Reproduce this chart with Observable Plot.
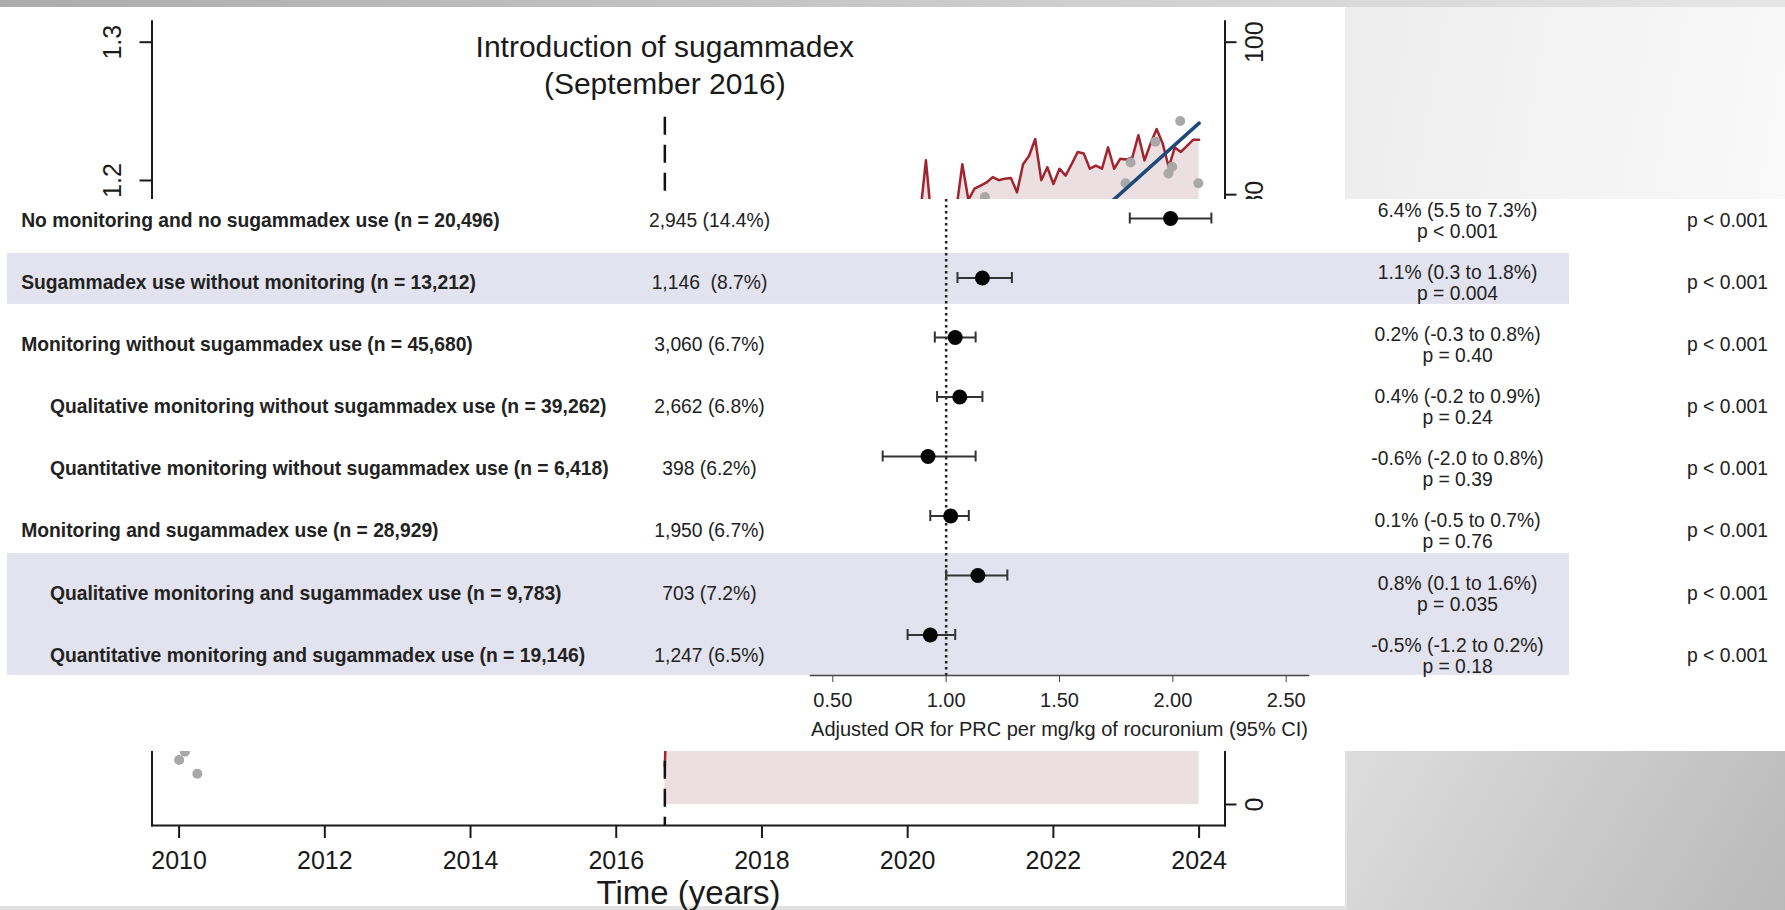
<!DOCTYPE html>
<html><head><meta charset="utf-8">
<script src="https://cdn.jsdelivr.net/npm/d3@7"></script>
<script src="https://cdn.jsdelivr.net/npm/@observablehq/plot@0.6"></script>
<style>
body{margin:0;width:1785px;height:910px;overflow:hidden;background:#e2e2e2;font-family:"Liberation Sans",Arial,sans-serif;position:relative}
.layer{position:absolute}
.layer svg{display:block;max-width:none}
</style></head><body>
<div class="layer" style="left:0;top:0;width:1785px;height:7px;background:linear-gradient(to right,#acacac,#e6e6e6)"></div>
<div class="layer" style="left:1345px;top:7px;width:440px;height:192px;background:linear-gradient(100deg,#ededed,#f9f9f9)"></div>
<div class="layer" style="left:0;top:7px;width:1345px;height:899px;background:#fff"></div>
<div id="back1" class="layer" style="left:0;top:0"></div>
<div id="back2" class="layer" style="left:0;top:0"></div>
<div class="layer" style="left:0;top:199px;width:1785px;height:552px;background:#fff"></div>
<div id="table" class="layer" style="left:0;top:199px"></div>
<div id="forest" class="layer" style="left:0;top:199px"></div>
<div class="layer" style="left:1347px;top:751px;width:438px;height:159px;background:linear-gradient(120deg,#dddddd,#b9b9b9)"></div>
<script>
// ---------- background chart (interrupted time series) ----------
const introYear = 2016.667;
const titleText = "Introduction of sugammadex\n(September 2016)";
const yearTicks = [2010, 2012, 2014, 2016, 2018, 2020, 2022, 2024];
const leftTicks = [0.8, 0.9, 1.0, 1.1, 1.2, 1.3];
const rightTicks = [0, 20, 40, 60, 80, 100];
// monthly series after introduction (right axis, %)
const redValues = [5,34,42,47,50,53,55,57,58,60,61,62,63,64,64,65,66,67,67,68,69,69,70,71,71,72,72,73,73,74,74,75,75,76,76,76,77,77,77,78,78,78,77,84.5,76,73,75,77,78,84.0,79.3,80.8,81.2,81.6,82.3,81.9,82.1,82.2,80.3,84.0,85.1,87.3,81.9,83.6,81.4,83.4,82.5,84.0,85.6,85.4,83.4,83.8,83.4,86.2,83.4,84.7,84.6,84.9,87.8,84.5,86.7,88.6,86.7,83.6,86.2,85.6,86.4,87.2,87.2];
const redMonths = redValues.map((v, i) => introYear + i / 12);
// grey observed points (left axis)
const dotYears = [2010.0, 2010.08, 2010.25, 2021.06, 2022.99, 2023.06, 2023.40, 2023.58, 2023.63, 2023.74, 2023.99];
const dotValues = [0.781, 0.787, 0.771, 1.188, 1.198, 1.213, 1.228, 1.205, 1.210, 1.243, 1.198];
// fitted trend (left axis)
const trendYears = [2016.667, 2024];
const trendValues = [0.895, 1.2415];

// ---------- forest plot overlay ----------
const rowLabels = [
  "No monitoring and no sugammadex use (n = 20,496)",
  "Sugammadex use without monitoring (n = 13,212)",
  "Monitoring without sugammadex use (n = 45,680)",
  "Qualitative monitoring without sugammadex use (n = 39,262)",
  "Quantitative monitoring without sugammadex use (n = 6,418)",
  "Monitoring and sugammadex use (n = 28,929)",
  "Qualitative monitoring and sugammadex use (n = 9,783)",
  "Quantitative monitoring and sugammadex use (n = 19,146)"
];
const rowIndent = [0, 0, 0, 1, 1, 0, 1, 1];
const rowCounts = ["2,945 (14.4%)", "1,146  (8.7%)", "3,060 (6.7%)", "2,662 (6.8%)", "398 (6.2%)", "1,950 (6.7%)", "703 (7.2%)", "1,247 (6.5%)"];
const rowEffects = ["6.4% (5.5 to 7.3%)", "1.1% (0.3 to 1.8%)", "0.2% (-0.3 to 0.8%)", "0.4% (-0.2 to 0.9%)", "-0.6% (-2.0 to 0.8%)", "0.1% (-0.5 to 0.7%)", "0.8% (0.1 to 1.6%)", "-0.5% (-1.2 to 0.2%)"];
const rowEffectP = ["p < 0.001", "p = 0.004", "p = 0.40", "p = 0.24", "p = 0.39", "p = 0.76", "p = 0.035", "p = 0.18"];
const rowInteractionP = ["p < 0.001", "p < 0.001", "p < 0.001", "p < 0.001", "p < 0.001", "p < 0.001", "p < 0.001", "p < 0.001"];
const orEstimate = [1.99, 1.16, 1.04, 1.06, 0.92, 1.02, 1.14, 0.93];
const orLower = [1.81, 1.05, 0.95, 0.96, 0.72, 0.93, 1.00, 0.83];
const orUpper = [2.17, 1.29, 1.13, 1.16, 1.13, 1.10, 1.27, 1.04];
const orTicks = [0.5, 1.0, 1.5, 2.0, 2.5];
const axisTitle = "Adjusted OR for PRC per mg/kg of rocuronium (95% CI)";
const bandStart = [0.53, 5.36];
const bandEnd = [1.35, 7.32];

// ---------- build tables ----------
const series = redValues.map((v, i) => ({t: redMonths[i], v}));
const dots = dotYears.map((t, i) => ({t, v: dotValues[i]}));
const trend = trendYears.map((t, i) => ({t, v: trendValues[i]}));
const rows = rowLabels.map((label, i) => ({
  i, label, indent: rowIndent[i], count: rowCounts[i],
  effect: rowEffects[i] + "\n" + rowEffectP[i], p: rowInteractionP[i],
  or: orEstimate[i], lo: orLower[i], hi: orUpper[i]
}));
const bands = bandStart.map((a, k) => ({a, b: bandEnd[k]}));

const font = "'Liberation Sans', Arial, Helvetica, sans-serif";
const baseStyle = {background: "transparent", fontFamily: font, color: "#1a1a1a", overflow: "visible"};
const backFrame = {width: 1345, height: 905, marginLeft: 151.5, marginRight: 120.5, marginTop: 20.7, marginBottom: 80};
const xYears = {domain: [2010, 2024], range: [178.6, 1198.6], axis: null};
const centered = {textAnchor: "middle", lineAnchor: "middle"};

const back1 = Plot.plot({
  ...backFrame, style: baseStyle,
  x: xYears,
  y: {domain: [0, 100], range: [804, 41.7], axis: null},
  marks: [
    Plot.areaY(series, {x: "t", y: "v", fill: "#ecdfe1"}),
    Plot.lineY(series, {x: "t", y: "v", stroke: "#a1252f", strokeWidth: 2.5}),
    Plot.frame({anchor: "right", stroke: "#1a1a1a", strokeWidth: 2}),
    Plot.axisY(rightTicks, {anchor: "right", tickSize: 11, tickFormat: () => "", strokeWidth: 2, label: null}),
    Plot.text(rightTicks, {y: d => d, text: d => String(d), frameAnchor: "right", dx: 30, rotate: -90, fontSize: 25, ...centered})
  ]
});
document.getElementById("back1").appendChild(back1);

const back2 = Plot.plot({
  ...backFrame, style: baseStyle,
  x: xYears,
  y: {domain: [1.2, 1.3], range: [180, 41.7], axis: null},
  marks: [
    Plot.ruleX([introYear], {stroke: "#111", strokeWidth: 2.5, strokeDasharray: "18,10", insetTop: 96}),
    Plot.dot(dots, {x: "t", y: "v", r: 5, fill: "#a8a8a8"}),
    Plot.line(trend, {x: "t", y: "v", stroke: "#1f4a78", strokeWidth: 3.5}),
    Plot.frame({anchor: "left", stroke: "#1a1a1a", strokeWidth: 2}),
    Plot.frame({anchor: "bottom", stroke: "#1a1a1a", strokeWidth: 2}),
    Plot.axisX(yearTicks, {tickSize: 13, tickPadding: 13, fontSize: 25, tickFormat: "d", strokeWidth: 2, label: null}),
    Plot.axisY(leftTicks, {anchor: "left", tickSize: 12, tickFormat: () => "", strokeWidth: 2, label: null}),
    Plot.text(leftTicks, {y: d => d, text: d => d.toFixed(1), frameAnchor: "left", dx: -39, rotate: -90, fontSize: 25, ...centered}),
    Plot.text([titleText], {x: introYear, frameAnchor: "top", dy: 42.7, fontSize: 30, lineHeight: 1.22, ...centered}),
    Plot.text(["Time (years)"], {frameAnchor: "bottom", dy: 68, fontSize: 33, ...centered})
  ]
});
document.getElementById("back2").appendChild(back2);

const table = Plot.plot({
  width: 1785, height: 552, marginLeft: 7, marginRight: 216, marginTop: 0, marginBottom: 0,
  style: {...baseStyle, color: "#222"},
  y: {domain: [0, 7], range: [21, 456], axis: null},
  marks: [
    Plot.rect(bands, {y1: "a", y2: "b", fill: "#e2e3ee"}),
    Plot.text(rows.filter(d => !d.indent), {y: "i", text: "label", frameAnchor: "left", dx: 13.7, textAnchor: "start", lineAnchor: "middle", fontWeight: "bold", fontSize: 19.3}),
    Plot.text(rows.filter(d => d.indent), {y: "i", text: "label", frameAnchor: "left", dx: 42.4, textAnchor: "start", lineAnchor: "middle", fontWeight: "bold", fontSize: 19.3}),
    Plot.text(rows, {y: "i", text: "count", frameAnchor: "left", dx: 702, fontSize: 19.3, ...centered}),
    Plot.text(rows, {y: "i", text: "effect", frameAnchor: "left", dx: 1450, fontSize: 19.3, lineHeight: 1.09, ...centered}),
    Plot.text(rows, {y: "i", text: "p", frameAnchor: "left", dx: 1720, fontSize: 19.3, ...centered})
  ]
});
document.getElementById("table").appendChild(table);

const forest = Plot.plot({
  width: 1785, height: 552, marginLeft: 810, marginRight: 477, marginTop: 0, marginBottom: 76,
  style: {...baseStyle, color: "#222"},
  x: {domain: [0.5, 2.5], range: [832.3, 1285.7], axis: null},
  y: {domain: [0, 7], range: [19, 435.5], axis: null},
  marks: [
    Plot.ruleX([1], {stroke: "#222", strokeWidth: 2.5, strokeDasharray: "2.5,3.5"}),
    Plot.ruleY(rows, {y: "i", x1: "lo", x2: "hi", stroke: "#333", strokeWidth: 2}),
    Plot.ruleX(rows, {x: "lo", y1: "i", y2: "i", insetTop: -5.5, insetBottom: -5.5, stroke: "#333", strokeWidth: 2}),
    Plot.ruleX(rows, {x: "hi", y1: "i", y2: "i", insetTop: -5.5, insetBottom: -5.5, stroke: "#333", strokeWidth: 2}),
    Plot.dot(rows, {x: "or", y: "i", r: 7.5, fill: "#050505"}),
    Plot.frame({anchor: "bottom", stroke: "#444", strokeWidth: 1.5}),
    Plot.axisX(orTicks, {tickSize: 7, tickPadding: 10, fontSize: 20, tickFormat: ".2f", label: null, stroke: "#444"}),
    Plot.text([axisTitle], {frameAnchor: "bottom", dy: 54, fontSize: 20, ...centered})
  ]
});
document.getElementById("forest").appendChild(forest);
</script>
</body></html>
